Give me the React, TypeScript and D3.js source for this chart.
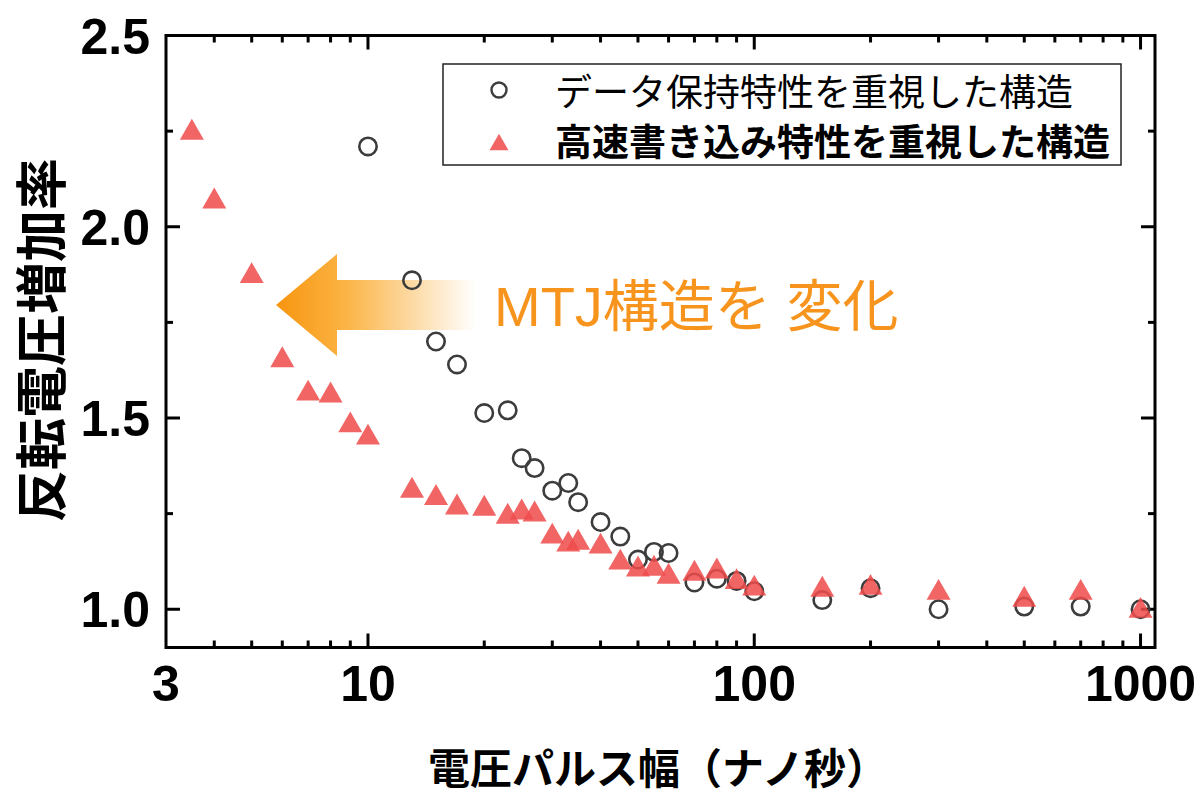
import React from 'react';
import * as d3 from 'd3';

// パルス幅(ns) と 反転電圧増加率
const retentionX = [10, 13, 15, 17, 20, 23, 25, 27, 30, 33, 35, 40, 45, 50, 55, 60, 70, 80, 90, 100, 150, 200, 300, 500, 700, 1000];
const retentionY = [2.21, 1.86, 1.70, 1.64, 1.513, 1.52, 1.395, 1.369, 1.31, 1.33, 1.28, 1.228, 1.19, 1.13, 1.15, 1.147, 1.07, 1.08, 1.074, 1.047, 1.024, 1.055, 1.0, 1.007, 1.007, 1.0];

const fastX = [3.5, 4, 5, 6, 7, 8, 9, 10, 13, 15, 17, 20, 23, 25, 27, 30, 33, 35, 40, 45, 50, 55, 60, 70, 80, 90, 100, 150, 200, 300, 500, 700, 1000];
const fastY = [2.255, 2.075, 1.88, 1.66, 1.573, 1.568, 1.49, 1.458, 1.319, 1.30, 1.275, 1.272, 1.251, 1.262, 1.257, 1.199, 1.178, 1.183, 1.173, 1.131, 1.113, 1.115, 1.094, 1.102, 1.108, 1.08, 1.063, 1.06, 1.065, 1.052, 1.034, 1.052, 1.005];

const xLabelTicks = [3, 10, 100, 1000];
const xMajorTicks = [10, 100, 1000];
const xMinorTicks = [4, 5, 6, 7, 8, 9, 20, 30, 40, 50, 60, 70, 80, 90, 200, 300, 400, 500, 600, 700, 800, 900];
const yMajorTicks = [1.0, 1.5, 2.0, 2.5];
const yMinorTicks = [1.25, 1.75, 2.25];

const legendLabels = ['データ保持特性を重視した構造', '高速書き込み特性を重視した構造'];
const yTitle = '反転電圧増加率';
const xTitle = '電圧パルス幅（ナノ秒）';
const noteText = 'MTJ構造を 変化';

const W = 1200;
const H = 800;
const left = 166, right = 1155, top = 35.5, bottom = 647.5;

const jp = '"Noto Sans CJK JP", sans-serif';
const num = '"Liberation Sans", Arial, sans-serif';
const mixed = '"Liberation Sans", "Noto Sans CJK JP", sans-serif';

const tri = (s: number) => {
  const h = s * 0.87;
  return `M0,${-h / 2}L${s / 2},${h / 2}L${-s / 2},${h / 2}Z`;
};

export default function App() {
  const x = d3.scaleLog().domain([3, 1090]).range([left, right]);
  const y = d3.scaleLinear().domain([0.9, 2.5]).range([bottom, top]);

  const circles = retentionX.map((v, i) => ({ x: v, y: retentionY[i] }));
  const triangles = fastX.map((v, i) => ({ x: v, y: fastY[i] }));

  const triFill = '#f04c4c';
  const triOpacity = 0.86;
  const circStroke = '#3c3c3c';

  // 矢印
  const arrowTip = 276, headBack = 337, shaftEnd = 476;
  const arrowY = 305;
  const arrowPath = `M${arrowTip},${arrowY}L${headBack},${arrowY - 51}L${headBack},${arrowY - 25}L${shaftEnd},${arrowY - 25}L${shaftEnd},${arrowY + 25}L${headBack},${arrowY + 25}L${headBack},${arrowY + 51}Z`;

  return (
    <svg width={W} height={H} viewBox={`0 0 ${W} ${H}`} style={{ display: 'block', position: 'absolute', left: 0, top: 0, background: '#fff' }}>
      <defs>
        <linearGradient id="arrowGrad" gradientUnits="userSpaceOnUse" x1={arrowTip} x2={shaftEnd} y1={0} y2={0}>
          <stop offset="0" stopColor="#f7950f" />
          <stop offset="0.35" stopColor="#fbb445" />
          <stop offset="0.7" stopColor="#fddcaa" />
          <stop offset="1" stopColor="#ffffff" />
        </linearGradient>
      </defs>

      {/* axis frame */}
      <rect x={left} y={top} width={right - left} height={bottom - top} fill="none" stroke="#000" strokeWidth={3} />

      {/* x ticks, bottom and top */}
      {xMajorTicks.map(t => (
        <g key={'xM' + t}>
          <line x1={x(t)} x2={x(t)} y1={bottom} y2={bottom - 14} stroke="#000" strokeWidth={3} />
          <line x1={x(t)} x2={x(t)} y1={top} y2={top + 14} stroke="#000" strokeWidth={3} />
        </g>
      ))}
      {xMinorTicks.map(t => (
        <g key={'xm' + t}>
          <line x1={x(t)} x2={x(t)} y1={bottom} y2={bottom - 7} stroke="#000" strokeWidth={3} />
          <line x1={x(t)} x2={x(t)} y1={top} y2={top + 7} stroke="#000" strokeWidth={3} />
        </g>
      ))}
      {xLabelTicks.map(t => (
        <text key={'xl' + t} x={x(t)} y={701} textAnchor="middle" fontFamily={num} fontWeight="bold" fontSize={50} fill="#000">{t}</text>
      ))}

      {/* y ticks, left and right */}
      {yMajorTicks.map(t => (
        <g key={'yM' + t}>
          <line x1={left} x2={left + 14} y1={y(t)} y2={y(t)} stroke="#000" strokeWidth={3} />
          <line x1={right} x2={right - 14} y1={y(t)} y2={y(t)} stroke="#000" strokeWidth={3} />
          <text x={150} y={y(t) + 18} textAnchor="end" fontFamily={num} fontWeight="bold" fontSize={50} fill="#000">{t.toFixed(1)}</text>
        </g>
      ))}
      {yMinorTicks.map(t => (
        <g key={'ym' + t}>
          <line x1={left} x2={left + 7} y1={y(t)} y2={y(t)} stroke="#000" strokeWidth={3} />
          <line x1={right} x2={right - 7} y1={y(t)} y2={y(t)} stroke="#000" strokeWidth={3} />
        </g>
      ))}

      {/* arrow + note */}
      <path d={arrowPath} fill="url(#arrowGrad)" />
      <text x={494} y={306} dominantBaseline="central" fontFamily={mixed} fontSize={56} fill="#f7941d">{noteText}</text>

      {/* data */}
      {circles.map((d, i) => (
        <circle key={'c' + i} cx={x(d.x)} cy={y(d.y)} r={8.7} fill="none" stroke={circStroke} strokeWidth={2.6} />
      ))}
      {triangles.map((d, i) => (
        <path key={'t' + i} d={tri(24)} transform={`translate(${x(d.x)},${y(d.y)})`} fill={triFill} fillOpacity={triOpacity} />
      ))}

      {/* legend */}
      <rect x={443} y={64} width={678} height={101} fill="#fff" stroke="#222" strokeWidth={1.5} />
      <circle cx={499} cy={90} r={7.5} fill="none" stroke={circStroke} strokeWidth={2.4} />
      <path d={tri(19)} transform="translate(499,142)" fill={triFill} fillOpacity={triOpacity} />
      <text x={555} y={90} dominantBaseline="central" fontFamily={jp} fontSize={37} fill="#000">{legendLabels[0]}</text>
      <text x={555} y={140} dominantBaseline="central" fontFamily={jp} fontWeight="bold" fontSize={37} fill="#000">{legendLabels[1]}</text>

      {/* axis titles */}
      <text transform="translate(38,340) rotate(-90)" textAnchor="middle" dominantBaseline="central" fontFamily={jp} fontWeight="bold" fontSize={52} fill="#000">{yTitle}</text>
      <text x={658} y={765} textAnchor="middle" dominantBaseline="central" fontFamily={jp} fontWeight="bold" fontSize={42} fill="#000">{xTitle}</text>
    </svg>
  );
}
